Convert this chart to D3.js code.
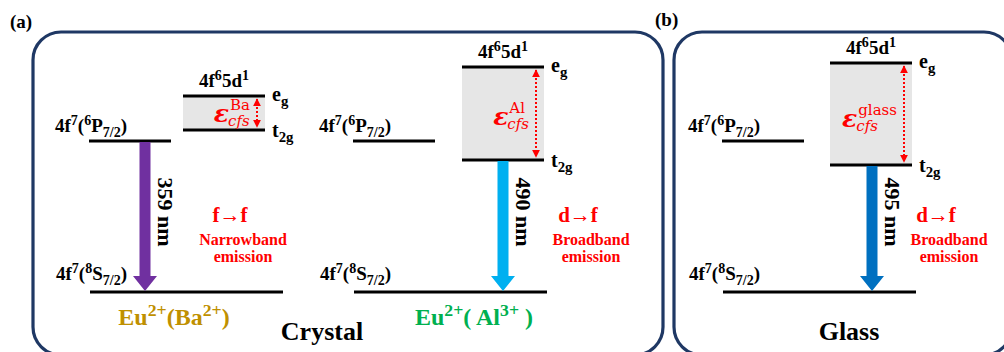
<!DOCTYPE html>
<html>
<head>
<meta charset="utf-8">
<script src="https://cdn.jsdelivr.net/npm/d3@7"></script>
<style>
  html, body { margin: 0; padding: 0; background: #fff; overflow: hidden; }
  svg { display: block; }
</style>
</head>
<body>
<svg id="chart" width="1004" height="352"></svg>
<script>
// Eu2+ energy levels (relative energy units) for the three sites
const sites = ["Ba", "Al", "glass"];
const groundLevel = [0, 0, 0];            // 4f7(8S7/2)
const fExcitedLevel = [6.04, 6.04, 6.04]; // 4f7(6P7/2)
const t2gLevel = [6.48, 5.28, 5.08];      // lower 4f65d1 crystal-field level
const egLevel = [7.84, 9.0, 9.16];        // upper 4f65d1 crystal-field level
const emissionNm = [359, 490, 495];
const transitions = ["f→f", "d→f", "d→f"];
const bandwidths = ["Narrowband", "Broadband", "Broadband"];
const siteLabels = [
  [["Eu", ""], ["2+", "sup"], ["(Ba", ""], ["2+", "sup"], [")", ""]],
  [["Eu", ""], ["2+", "sup"], ["( Al", ""], ["3+", "sup"], [" )", ""]],
  null
];
const hostLabels = ["Crystal", "Glass"];
const panelTags = ["(a)", "(b)"];

// ---- drawing ----
const svg = d3.select("#chart");
const SERIF = "'Liberation Serif', 'Times New Roman', serif";
const MATH = "'DejaVu Serif', serif";
const y = d3.scaleLinear().domain([0, 10]).range([292, 42]);

// per-scheme layout
const origin = [89, 353, 722];
const dBoxX = [94, 109, 108];
const arrowX = [56, 150, 150];
const labelX = [85, 121, 0];
const textX = [243, 591, 949];
const arrowColor = ["#7030a0", "#00b0f0", "#0070c0"];
const siteColor = ["#bf9000", "#00b050", null];

// rich text with superscripts / subscripts
function richText(g, x, yy, parts, fs, opts = {}) {
  const t = g.append("text")
    .attr("x", x).attr("y", yy)
    .attr("font-family", opts.family || SERIF)
    .attr("font-weight", opts.weight || "bold")
    .attr("font-size", fs)
    .attr("fill", opts.fill || "#000")
    .attr("text-anchor", opts.anchor || "start");
  let shift = 0;
  parts.forEach(([s, kind]) => {
    const target = kind === "sup" ? -0.38 * fs : kind === "sub" ? 0.26 * fs : 0;
    t.append("tspan")
      .attr("dy", target - shift)
      .attr("font-size", kind ? fs * 0.74 : fs)
      .text(s);
    shift = target;
  });
  return t;
}

// panel frames
const frames = [
  { x0: 33, x1: 663 },
  { x0: 674, x1: 1012 }
];
svg.selectAll("rect.frame").data(frames).join("rect")
  .attr("class", "frame")
  .attr("x", d => d.x0).attr("y", 32)
  .attr("width", d => d.x1 - d.x0).attr("height", 355 - 32)
  .attr("rx", 28).attr("ry", 28)
  .attr("fill", "none").attr("stroke", "#1f3864").attr("stroke-width", 3.2);

svg.selectAll("text.tag").data(panelTags).join("text")
  .attr("class", "tag")
  .attr("x", (d, i) => i === 0 ? 10 : 655).attr("y", (d, i) => i === 0 ? 28 : 26)
  .attr("font-family", SERIF).attr("font-weight", "bold").attr("font-size", 19)
  .text(d => d);

// red arrowheads for the dotted splitting arrows
const defs = svg.append("defs");
["start", "end"].forEach(k => {
  defs.append("marker")
    .attr("id", "red-" + k)
    .attr("viewBox", "0 0 10 10").attr("refX", 9).attr("refY", 5)
    .attr("markerWidth", 4).attr("markerHeight", 4)
    .attr("orient", k === "start" ? "auto-start-reverse" : "auto")
    .append("path").attr("d", "M0,0 L10,5 L0,10 z").attr("fill", "#ff0000");
});

sites.forEach((site, i) => {
  const g = svg.append("g");
  const ox = origin[i];
  const bx0 = ox + dBoxX[i], bx1 = bx0 + 82;
  const yE = y(egLevel[i]), yT = y(t2gLevel[i]);
  const yP = y(fExcitedLevel[i]), yG = y(groundLevel[i]);

  // crystal-field splitting band
  g.append("rect").attr("x", bx0).attr("y", yE).attr("width", bx1 - bx0).attr("height", yT - yE)
    .attr("fill", "#e6e6e6");

  // levels
  const lines = [
    [ox, ox + 82, yP],
    [ox + 1, ox + 194, yG],
    [bx0, bx1, yE],
    [bx0, bx1, yT]
  ];
  g.selectAll("line.lvl").data(lines).join("line")
    .attr("x1", d => d[0]).attr("x2", d => d[1])
    .attr("y1", d => d[2]).attr("y2", d => d[2])
    .attr("stroke", "#000").attr("stroke-width", 3);

  // level labels
  richText(g, ox - 34, yP - 9, [["4f", ""], ["7", "sup"], ["(", ""], ["6", "sup"], ["P", ""], ["7/2", "sub"], [")", ""]], 19);
  richText(g, ox - 33, yG - 12, [["4f", ""], ["7", "sup"], ["(", ""], ["8", "sup"], ["S", ""], ["7/2", "sub"], [")", ""]], 19);
  richText(g, (bx0 + bx1) / 2, yE - 9, [["4f", ""], ["6", "sup"], ["5d", ""], ["1", "sup"]], 19, { anchor: "middle" });
  richText(g, bx1 + 7, yE + 5, [["e", ""], ["g", "sub"]], 20);
  richText(g, bx1 + 7, yT + 7, [["t", ""], ["2g", "sub"]], 20);

  // splitting arrow
  const ax = bx1 - 8;
  g.append("line").attr("x1", ax).attr("x2", ax).attr("y1", yE + 3).attr("y2", yT - 3)
    .attr("stroke", "#ff0000").attr("stroke-width", 2).attr("stroke-dasharray", "2,2")
    .attr("marker-start", "url(#red-start)").attr("marker-end", "url(#red-end)");

  // epsilon_cfs label: one text, superscript and subscript stacked after the epsilon
  const epsBase = (yE + yT) / 2 + 9 + (i === 0 ? 0 : i === 1 ? 2 : 4);
  const eps = g.append("text").attr("x", 0).attr("y", epsBase)
    .attr("font-family", MATH).attr("fill", "#ff0000");
  const e0 = eps.append("tspan").attr("font-size", 25).attr("font-style", "italic")
    .attr("font-weight", "bold").text("ε");
  const ew = e0.node().getComputedTextLength();
  const s0 = eps.append("tspan").attr("x", ew + 1).attr("dy", -12).attr("font-size", 15).text(site);
  const c0 = eps.append("tspan").attr("x", ew - 1).attr("dy", 16).attr("font-size", 15)
    .attr("font-style", "italic").text("cfs");
  const gw = Math.max(ew + 1 + s0.node().getComputedTextLength(), ew - 1 + c0.node().getComputedTextLength());
  eps.attr("transform", `translate(${ax - 7 - gw},0)`);

  // emission arrow
  const cx = ox + arrowX[i];
  const yTop = i === 0 ? yP + 1 : yT + 1;
  const sw = 11, hw = 24, hl = 15, tip = yG - 1;
  const path = d3.path();
  path.moveTo(cx - sw / 2, yTop);
  path.lineTo(cx + sw / 2, yTop);
  path.lineTo(cx + sw / 2, tip - hl);
  path.lineTo(cx + hw / 2, tip - hl);
  path.lineTo(cx, tip);
  path.lineTo(cx - hw / 2, tip - hl);
  path.lineTo(cx - sw / 2, tip - hl);
  path.closePath();
  g.append("path").attr("d", path.toString()).attr("fill", arrowColor[i]);

  // wavelength, rotated
  g.append("text")
    .attr("transform", `translate(${cx + 20},212) rotate(90)`)
    .attr("text-anchor", "middle").attr("dominant-baseline", "central")
    .attr("font-family", SERIF).attr("font-weight", "bold").attr("font-size", 22)
    .text(emissionNm[i] + " nm");

  // transition type
  const tx = textX[i];
  g.append("text").attr("x", tx - 13).attr("y", 222)
    .attr("text-anchor", "middle").attr("font-family", SERIF).attr("font-weight", "bold")
    .attr("font-size", 21).attr("fill", "#ff0000").text(transitions[i]);
  g.append("text").attr("x", tx).attr("y", 245)
    .attr("text-anchor", "middle").attr("font-family", SERIF).attr("font-weight", "bold")
    .attr("font-size", 16).attr("fill", "#ff0000").text(bandwidths[i]);
  g.append("text").attr("x", tx).attr("y", 262)
    .attr("text-anchor", "middle").attr("font-family", SERIF).attr("font-weight", "bold")
    .attr("font-size", 16).attr("fill", "#ff0000").text("emission");

  // site label
  if (siteLabels[i]) {
    richText(g, ox + labelX[i], 325, siteLabels[i], 24, { anchor: "middle", fill: siteColor[i] });
  }
});

// host labels
svg.selectAll("text.host").data(hostLabels).join("text")
  .attr("class", "host")
  .attr("x", (d, i) => i === 0 ? 322 : 849).attr("y", 340)
  .attr("text-anchor", "middle").attr("font-family", SERIF).attr("font-weight", "bold")
  .attr("font-size", 26).text(d => d);
</script>
</body>
</html>
